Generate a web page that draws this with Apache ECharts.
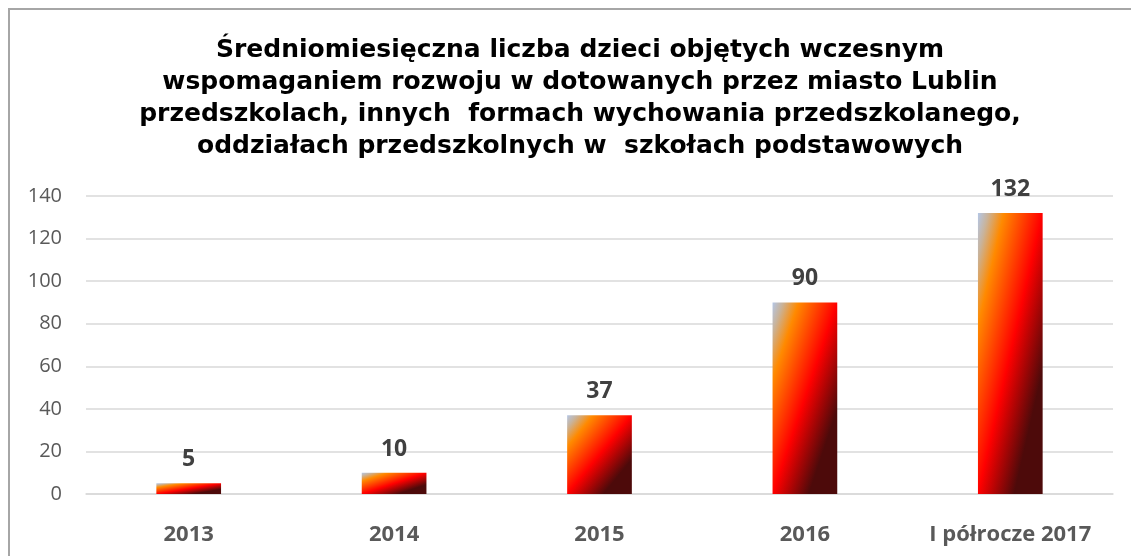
<!DOCTYPE html>
<html>
<head>
<meta charset="utf-8">
<script src="https://cdn.jsdelivr.net/npm/echarts@6/dist/echarts.min.js"></script>
<style>
  html, body { margin: 0; padding: 0; background: #fff; }
  #chart { width: 1131px; height: 556px; }
</style>
</head>
<body>
<div id="chart"></div>
<script>
// dane wykresu
const categories = ['2013', '2014', '2015', '2016', 'I półrocze 2017'];
const values = [5, 10, 37, 90, 132];
const yTicks = [0, 20, 40, 60, 80, 100, 120, 140];

const titleText = 'Średniomiesięczna liczba dzieci objętych wczesnym\n' +
  'wspomaganiem rozwoju w dotowanych przez miasto Lublin\n' +
  'przedszkolach, innych  formach wychowania przedszkolanego,\n' +
  'oddziałach przedszkolnych w  szkołach podstawowych';

const barWidthPct = 0.315;

// gradient "ogień" rozciągnięty jak w Excelu (izolinie po przekątnej prostokąta)
function fireGradient(w, h) {
  let x2 = 1, y2 = 1;
  if (w > 0 && h > 0) {
    x2 = 2 * h * h / (h * h + w * w);
    y2 = 2 * w * w / (h * h + w * w);
  }
  return new echarts.graphic.LinearGradient(0, 0, x2, y2, [
    { offset: 0, color: '#b4c7e7' },
    { offset: 0.08, color: '#c9b39a' },
    { offset: 0.2, color: '#ff8a00' },
    { offset: 0.5, color: '#ff0000' },
    { offset: 0.78, color: '#4d0a0a' },
    { offset: 1, color: '#4d0a0a' }
  ]);
}

let chart = echarts.init(document.getElementById('chart'));

const option = {
  animation: false,
  backgroundColor: '#ffffff',
  title: {
    text: titleText,
    left: 575,
    top: 29,
    textAlign: 'center',
    textStyle: {
      fontFamily: 'DejaVu Sans',
      fontWeight: 'bold',
      fontSize: 25,
      lineHeight: 32,
      color: '#000000'
    }
  },
  graphic: [{
    type: 'rect',
    shape: { x: 9, y: 9, width: 1300, height: 700 },
    style: { fill: 'none', stroke: '#a6a6a6', lineWidth: 2 },
    silent: true
  }],
  grid: {
    left: 86,
    right: 18,
    top: 196,
    bottom: 62
  },
  xAxis: {
    type: 'category',
    data: categories,
    axisLine: { show: true, lineStyle: { color: '#d9d9d9', width: 1.5 } },
    axisTick: { show: false },
    axisLabel: {
      interval: 0,
      margin: 30,
      fontFamily: 'Open Sans',
      fontWeight: 'bold',
      fontSize: 22,
      color: '#595959'
    }
  },
  yAxis: {
    type: 'value',
    min: yTicks[0],
    max: yTicks[yTicks.length - 1],
    interval: yTicks[1] - yTicks[0],
    axisLine: { show: false },
    axisTick: { show: false },
    splitLine: { lineStyle: { color: '#d9d9d9', width: 1.5 } },
    axisLabel: {
      margin: 24,
      fontFamily: 'Open Sans',
      fontSize: 20,
      color: '#595959'
    }
  },
  series: [{
    type: 'bar',
    data: values,
    barWidth: (barWidthPct * 100) + '%',
    itemStyle: { color: '#ff0000' },
    label: {
      show: true,
      position: 'top',
      distance: 12,
      fontFamily: 'Open Sans',
      fontWeight: 'bold',
      fontSize: 23,
      color: '#404040'
    }
  }]
};

chart.setOption(option);

// dopasowanie gradientu do rzeczywistego rozmiaru każdego słupka
const zeroPx = chart.convertToPixel({ gridIndex: 0 }, [0, 0]);
const nextPx = chart.convertToPixel({ gridIndex: 0 }, [1, 0]);
const barW = (nextPx[0] - zeroPx[0]) * barWidthPct;
const styled = values.map((v, i) => {
  const top = chart.convertToPixel({ gridIndex: 0 }, [i, v]);
  const h = Math.abs(zeroPx[1] - top[1]);
  return { value: v, itemStyle: { color: fireGradient(barW, h) } };
});
chart.setOption({ series: [{ data: styled }] });
</script>
</body>
</html>
